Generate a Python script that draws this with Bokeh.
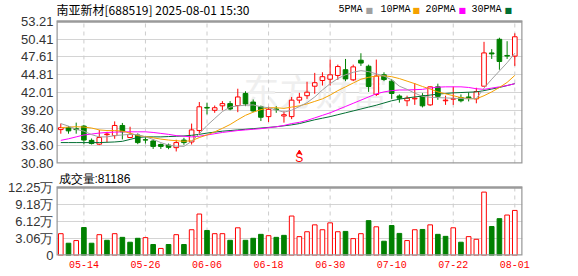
from bokeh.plotting import figure
from bokeh.layouts import column
from bokeh.models import Range1d, FixedTicker, Label, ColumnDataSource, NumeralTickFormatter, CustomJSTickFormatter
from bokeh.embed import file_html
from bokeh.resources import INLINE
from bokeh.core.properties import value

# ---------------- data ----------------
title_text = "南亚新材[688519] 2025-08-01 15:30"
dates = ["05-09","05-12","05-13","05-14","05-15","05-16","05-19","05-20","05-21","05-22",
         "05-23","05-26","05-27","05-28","05-29","05-30","06-03","06-04","06-05","06-06",
         "06-09","06-10","06-11","06-12","06-13","06-16","06-17","06-18","06-19","06-20",
         "06-23","06-24","06-25","06-26","06-27","06-30","07-01","07-02","07-03","07-04",
         "07-07","07-08","07-09","07-10","07-11","07-14","07-15","07-16","07-17","07-18",
         "07-21","07-22","07-23","07-24","07-25","07-28","07-29","07-30","07-31","08-01"]
opens = [36.15,36.45,36.30,36.70,34.45,33.85,35.35,35.20,36.80,34.90,
         35.30,34.55,34.35,33.80,33.70,33.30,34.50,34.20,36.00,39.65,
         39.20,39.90,40.25,39.95,41.85,40.50,39.75,38.20,39.40,38.30,
         38.20,40.80,41.50,43.00,43.90,44.10,44.70,45.60,44.00,47.10,
         46.15,41.70,44.80,43.80,41.45,40.70,41.00,41.50,40.05,42.90,
         40.70,40.95,41.20,41.30,41.00,43.00,48.25,50.40,47.85,47.75]
highs = [37.10,36.70,37.25,36.90,34.75,36.10,35.80,37.45,37.20,36.60,
         35.55,35.10,34.60,33.95,33.95,34.55,34.85,37.10,40.50,40.40,
         39.95,40.65,40.65,42.60,42.20,40.90,39.95,39.75,39.85,39.05,
         41.30,41.95,43.70,45.10,45.20,47.20,46.40,47.30,46.40,48.20,
         46.40,47.20,45.20,44.15,41.70,41.50,43.50,41.90,42.95,43.40,
         41.50,42.95,41.70,42.05,42.75,50.00,48.85,50.65,50.10,51.35]
lows = [35.50,35.50,35.50,33.85,33.80,33.70,34.15,34.70,34.60,34.80,
        33.85,33.95,33.10,33.10,33.05,32.70,33.75,33.80,35.40,38.55,
        38.80,39.20,39.20,38.90,39.85,38.90,37.50,37.35,38.80,37.25,
        37.80,40.30,41.00,41.80,43.10,43.10,44.00,43.80,43.80,46.20,
        42.10,41.45,43.80,41.00,40.40,39.85,40.05,39.65,39.90,40.85,
        40.05,40.05,40.45,40.60,40.30,43.00,47.30,45.60,47.30,46.20]
closes = [36.45,35.95,36.15,34.50,33.95,34.90,35.45,36.80,35.80,35.40,
          34.10,34.50,33.50,33.50,33.35,34.10,34.10,36.10,39.75,39.55,
          39.60,40.25,39.40,41.30,40.20,39.10,38.10,39.35,39.30,38.50,
          40.80,41.25,42.05,43.55,44.50,44.80,46.10,44.15,46.05,46.65,
          42.95,44.60,44.05,41.85,41.10,41.10,41.10,39.90,42.90,41.40,
          40.80,41.05,40.70,41.15,42.15,48.25,48.10,46.90,47.75,50.80]
ma5 = [37.1,36.7,36.2,35.9,35.35,35.0,35.0,35.2,35.3,35.4,
       35.35,35.0,34.6,34.1,33.7,33.55,33.5,34.3,35.5,36.8,
       37.9,39.0,39.7,39.9,40.0,40.05,39.75,39.6,39.25,38.9,
       39.2,39.8,40.4,41.3,42.4,43.4,44.2,44.8,45.2,45.45,
       45.3,44.95,44.6,44.0,43.0,42.5,41.9,41.4,41.25,41.2,
       41.15,41.1,41.05,41.0,41.05,42.7,44.1,45.4,46.7,48.2]
ma10 = [36.45,36.55,36.6,36.55,36.4,36.1,36.0,36.0,35.9,35.6,
        35.2,35.05,34.85,34.65,34.5,34.4,34.3,34.4,34.9,35.3,
        35.8,36.35,36.95,37.7,38.4,38.9,39.3,39.6,39.6,39.5,
        39.7,39.9,40.2,40.6,41.0,41.6,42.3,42.9,43.5,44.1,
        44.4,44.6,44.65,44.5,44.2,43.8,43.4,42.95,42.55,42.1,
        41.8,41.5,41.2,41.05,41.0,41.5,42.1,42.8,43.6,44.7]
ma20 = [34.45,34.7,35.0,35.3,35.45,35.6,35.7,35.75,35.8,35.8,
        35.8,35.8,35.7,35.55,35.4,35.2,35.1,35.0,35.1,35.3,
        35.5,35.7,35.85,36.0,36.1,36.2,36.3,36.45,36.6,36.8,
        37.1,37.3,37.6,38.0,38.4,38.8,39.3,39.8,40.3,40.8,
        41.3,41.8,42.1,42.3,42.4,42.4,42.45,42.5,42.7,42.85,
        42.9,42.9,42.9,42.8,42.6,42.5,42.7,42.9,43.1,43.4]
ma30 = [34.1,34.1,34.1,34.1,34.1,34.1,34.15,34.2,34.3,34.6,
        34.9,35.0,35.0,35.0,35.05,35.1,35.15,35.25,35.4,35.6,
        35.75,35.9,36.0,36.1,36.2,36.3,36.4,36.5,36.6,36.75,
        36.9,37.1,37.4,37.7,37.95,38.2,38.5,38.8,39.1,39.4,
        39.7,40.0,40.35,40.7,40.95,41.15,41.3,41.45,41.6,41.75,
        41.85,41.95,42.0,42.05,42.1,42.3,42.55,42.8,43.1,43.4]
volumes = [3.93,2.21,2.69,5.04,2.21,3.75,2.74,3.93,3.27,2.39,
           3.10,3.22,1.98,1.27,1.98,3.75,1.98,4.64,7.47,4.51,
           3.93,3.93,2.74,4.99,2.74,3.10,3.81,3.57,3.27,3.63,
           7.11,3.40,4.28,5.52,4.64,5.88,4.28,4.34,3.04,3.93,
           6.28,5.17,2.57,5.40,3.98,2.69,4.64,4.69,5.52,3.81,
           3.45,4.99,2.39,3.40,2.92,11.42,5.22,6.64,7.29,8.1186]  # 万
vol_up = [1,0,1,0,0,1,0,1,0,0, 0,1,0,1,0,1,0,1,1,0,
          1,1,0,1,0,0,0,1,0,0, 1,1,1,1,1,1,1,0,1,1,
          0,1,0,0,0,1,1,0,1,0, 0,1,0,1,1,1,0,0,1,1]
last_volume_label = "成交量:81186"
price_ticks = [30.80, 33.60, 36.40, 39.20, 42.01, 44.81, 47.61, 50.41, 53.21]
vol_ticks = [0, 3.06, 6.12, 9.18, 12.25]
date_tick_idx = [3, 11, 19, 27, 35, 43, 51, 59]
signal_idx = [31]
signal_text = ["S"]
ma_names = ["5PMA", "10PMA", "20PMA", "30PMA"]

# ---------------- styles / layout ----------------
RED = "#ff0000"
GREEN = "#008000"
MA_COLORS = ["#a0a0a0", "#f5a100", "#ff00ff", "#006e32"]
GRID = "#d4d4d4"
VGRID = "#cccccc"
FRAME = "#9a9a9a"
LABEL_COLOR = "#333333"
HEADER_PX, PRICE_PX, PRICE_BOTTOM_PX = 21, 142, 8
VOL_HEADER_PX, VOL_PX, VOL_BOTTOM_PX = 16, 68, 21

n = len(dates)
idx = list(range(n))
up = [c >= o for o, c in zip(opens, closes)]
src = ColumnDataSource(dict(
    x=idx, h=highs, l=lows,
    top=[max(o, c) for o, c in zip(opens, closes)],
    bot=[min(o, c) for o, c in zip(opens, closes)],
    lc=[RED if u else GREEN for u in up],
    fc=["#ffffff" if u else GREEN for u in up],
))

x_range = Range1d(-0.56, 60.0)
p_lo, p_hi = price_ticks[0], price_ticks[-1]
p_top = p_hi + (p_hi - p_lo) * HEADER_PX / PRICE_PX


def style_axis(ax):
    ax.axis_line_color = None
    ax.major_tick_line_color = None
    ax.minor_tick_line_color = None
    ax.major_tick_in = 0
    ax.major_tick_out = 0


p = figure(width=578, height=HEADER_PX + PRICE_PX + PRICE_BOTTOM_PX, x_range=x_range,
           y_range=Range1d(p_lo, p_top),
           output_backend="svg", toolbar_location=None, x_axis_location=None,
           min_border_left=56, min_border_right=56, min_border_top=0, min_border_bottom=PRICE_BOTTOM_PX)
p.outline_line_color = None
p.background_fill_color = "white"
p.border_fill_color = "white"
p.yaxis.ticker = FixedTicker(ticks=price_ticks)
p.yaxis.formatter = NumeralTickFormatter(format="0.00")
p.ygrid.ticker = FixedTicker(ticks=price_ticks)
p.ygrid.grid_line_color = GRID
p.xgrid.visible = False
style_axis(p.yaxis[0])
p.yaxis.major_label_standoff = 3
p.yaxis.major_label_text_font = "Liberation Sans"
p.yaxis.major_label_text_font_size = "13px"
p.yaxis.major_label_text_color = LABEL_COLOR

# dashed date lines inside the price box
p.segment(x0=date_tick_idx, y0=p_lo, x1=date_tick_idx, y1=p_hi, line_color=VGRID, line_dash="4 4", line_width=1)

# watermark
p.add_layout(Label(x=259, y=74, x_units="screen", y_units="screen", text="东方财富",
                   text_font="Noto Sans CJK SC", text_font_size="36px", text_color="#efefef",
                   text_align="center", text_baseline="middle", level="underlay"))

# candles
p.segment(x0="x", y0="h", x1="x", y1="l", source=src, line_color="lc", line_width=1)
p.vbar(x="x", top="top", bottom="bot", width=0.6, source=src, fill_color="fc", line_color="lc", line_width=1)

# moving averages
for ma, col in zip([ma30, ma20, ma10, ma5], MA_COLORS[::-1]):
    p.line(idx, ma, line_color=col, line_width=1)

# signal marker
sig_y = p_lo + 0.9
p.text(x=signal_idx, y=[sig_y] * len(signal_idx), text=signal_text, text_color=RED,
       text_font=value("Liberation Sans"), text_font_size="12px", text_align="center", text_baseline="middle")
p.scatter(x=signal_idx, y=[sig_y + 0.85] * len(signal_idx), marker="triangle", size=4, color=RED)

# price box outline
p.quad(left=[x_range.start], right=[x_range.end], bottom=[p_lo], top=[p_hi],
       fill_color=None, line_color=FRAME, line_width=2.5)

# title & legend (screen units, relative to frame bottom-left)
hdr_y = PRICE_PX + HEADER_PX - 9
p.add_layout(Label(x=0, y=hdr_y, x_units="screen", y_units="screen", text=title_text,
                   text_font="Noto Sans CJK SC", text_font_size="12px", text_color="#000000",
                   text_baseline="middle"))
leg_text_x = [282, 324, 369, 415]
leg_sq_x = [309, 356, 402, 448]
for name, col, tx, sx in zip(ma_names, MA_COLORS, leg_text_x, leg_sq_x):
    p.add_layout(Label(x=tx, y=hdr_y, x_units="screen", y_units="screen", text=name,
                       text_font="Liberation Mono", text_font_size="10px", text_color="#000000",
                       text_baseline="middle"))
    p.add_layout(Label(x=sx, y=hdr_y - 1, x_units="screen", y_units="screen", text="■",
                       text_font="DejaVu Sans", text_font_size="8px", text_color=col,
                       text_baseline="middle"))

# ---------------- volume ----------------
v_lo, v_hi = vol_ticks[0], vol_ticks[-1]
v_top = v_hi + (v_hi - v_lo) * VOL_HEADER_PX / VOL_PX
v = figure(width=578, height=VOL_HEADER_PX + VOL_PX + VOL_BOTTOM_PX, x_range=x_range,
           y_range=Range1d(v_lo, v_top),
           output_backend="svg", toolbar_location=None,
           min_border_left=56, min_border_right=56, min_border_top=0, min_border_bottom=VOL_BOTTOM_PX)
v.outline_line_color = None
v.background_fill_color = "white"
v.border_fill_color = "white"
v.segment(x0=date_tick_idx, y0=v_lo, x1=date_tick_idx, y1=v_hi, line_color=VGRID, line_dash="4 4", line_width=1)
vsrc = ColumnDataSource(dict(x=idx, top=volumes,
                             lc=[RED if u else GREEN for u in vol_up],
                             fc=["#ffffff" if u else GREEN for u in vol_up]))
v.vbar(x="x", top="top", bottom=0, width=0.6, source=vsrc, fill_color="fc", line_color="lc", line_width=1)
v.quad(left=[x_range.start], right=[x_range.end], bottom=[v_lo], top=[v_hi],
       fill_color=None, line_color=FRAME, line_width=2.5)
v.yaxis.ticker = FixedTicker(ticks=vol_ticks)
v.yaxis.formatter = CustomJSTickFormatter(code="return tick == 0 ? '0' : tick.toFixed(2) + '万';")
v.ygrid.ticker = FixedTicker(ticks=vol_ticks)
v.ygrid.grid_line_color = GRID
v.xgrid.visible = False
v.xaxis.ticker = FixedTicker(ticks=date_tick_idx)
v.xaxis.major_label_overrides = {i: dates[i] for i in date_tick_idx}
style_axis(v.yaxis[0])
style_axis(v.xaxis[0])
v.yaxis.major_label_standoff = 3
v.yaxis.major_label_text_font = "Liberation Sans"
v.yaxis.major_label_text_font_size = "13px"
v.yaxis.major_label_text_color = LABEL_COLOR
v.xaxis.major_label_standoff = 5
v.xaxis.major_label_text_font = "Liberation Mono"
v.xaxis.major_label_text_font_size = "10px"
v.xaxis.major_label_text_color = RED
v.add_layout(Label(x=2, y=VOL_PX + VOL_HEADER_PX - 7, x_units="screen", y_units="screen",
                   text=last_volume_label, text_font="Liberation Sans", text_font_size="12px",
                   text_color="#000000", text_baseline="middle"))

layout = column(p, v, spacing=0)
open("out.html", "w").write(file_html(layout, INLINE))
